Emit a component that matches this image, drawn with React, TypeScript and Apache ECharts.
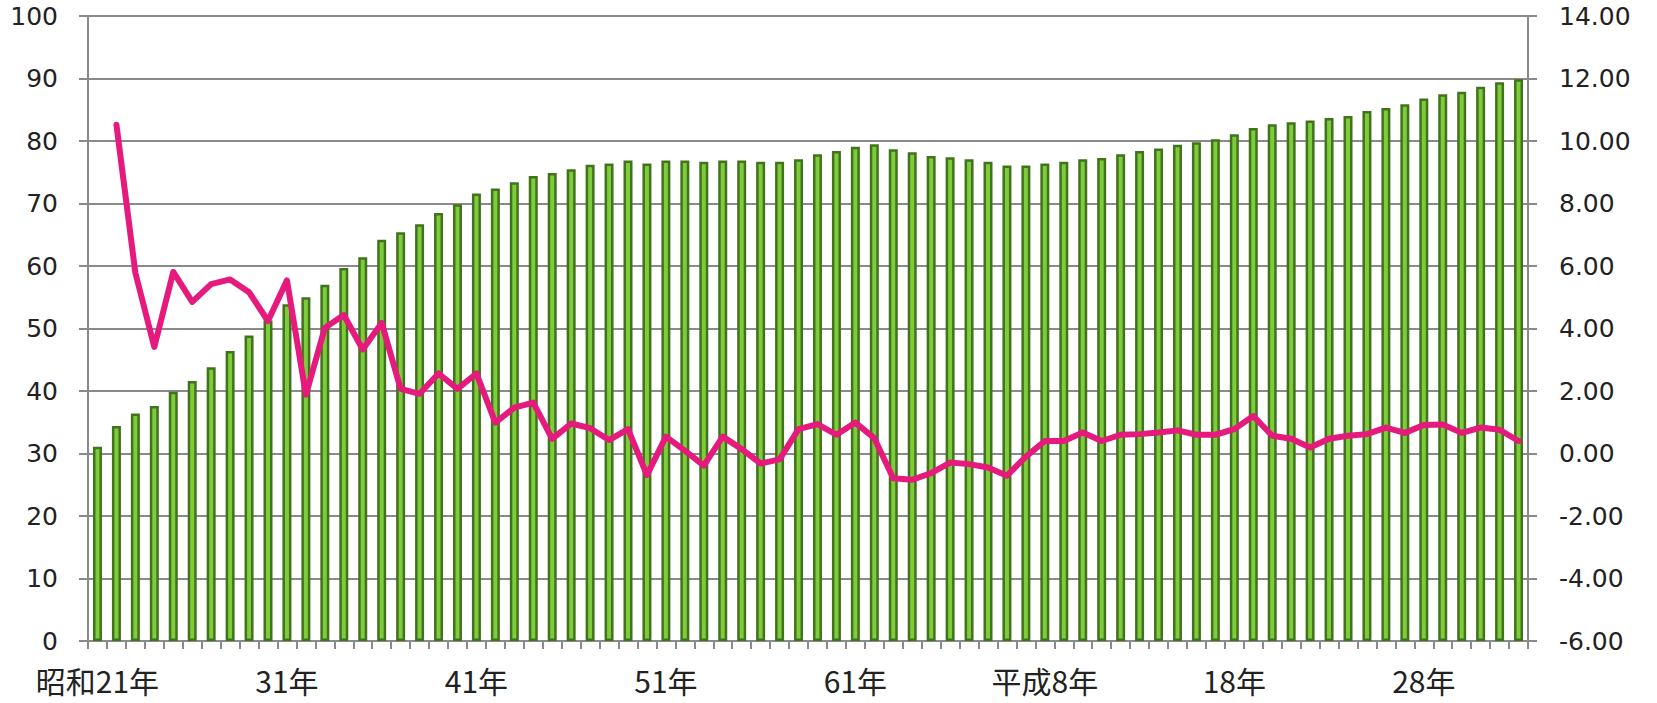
import React, { useEffect, useRef } from "react";
import * as echarts from "echarts";

// Categories: 昭和21年 (1946) .. 令和3年 (2021)
const SHOWA_YEARS = Array.from({ length: 43 }, (_, i) => `昭和${21 + i}年`);
const HEISEI_YEARS = Array.from({ length: 31 }, (_, i) => (i === 0 ? "平成元年" : `平成${i + 1}年`));
const REIWA_YEARS = ["令和2年", "令和3年"];
const CATEGORIES = [...SHOWA_YEARS, ...HEISEI_YEARS, ...REIWA_YEARS];

// Tick labels shown every 10 categories
const TICK_LABELS = ["昭和21年", "31年", "41年", "51年", "61年", "平成8年", "18年", "28年"];

// Bar values (left axis)
const BAR_VALUES = [
  31.1, 34.4, 36.4, 37.6, 39.9, 41.6, 43.8, 46.4, 48.9, 51.3,
  53.9, 55.0, 57.0, 59.7, 61.4, 64.2, 65.4, 66.7, 68.5, 69.9,
  71.6, 72.4, 73.4, 74.4, 74.9, 75.5, 76.2, 76.4, 76.9, 76.4,
  76.9, 76.9, 76.7, 76.9, 76.9, 76.7, 76.7, 77.1, 77.9, 78.4,
  79.1, 79.5, 78.7, 78.2, 77.6, 77.4, 77.1, 76.7, 76.1, 76.1,
  76.4, 76.7, 77.1, 77.3, 77.9, 78.4, 78.8, 79.4, 79.8, 80.3,
  81.1, 82.1, 82.7, 83.0, 83.3, 83.7, 84.0, 84.8, 85.3, 85.9,
  86.8, 87.5, 87.9, 88.7, 89.4, 89.9,
];

// Line values (right axis, % change)
const LINE_VALUES: (number | null)[] = [
  null, 10.52, 5.78, 3.41, 5.81, 4.85, 5.42, 5.57, 5.16, 4.24,
  5.54, 1.88, 4.02, 4.43, 3.33, 4.18, 2.07, 1.91, 2.56, 2.07,
  2.56, 0.99, 1.47, 1.63, 0.47, 0.96, 0.81, 0.43, 0.78, -0.69,
  0.54, 0.09, -0.39, 0.54, 0.14, -0.32, -0.19, 0.78, 0.94, 0.6,
  0.99, 0.49, -0.79, -0.84, -0.63, -0.29, -0.34, -0.45, -0.71, -0.1,
  0.4, 0.4, 0.67, 0.4, 0.6, 0.62, 0.67, 0.74, 0.6, 0.6,
  0.78, 1.2, 0.57, 0.47, 0.19, 0.47, 0.57, 0.62, 0.83, 0.66,
  0.91, 0.93, 0.66, 0.83, 0.76, 0.4,
];

const GRAY = "#8a8a8a";
const TEXT = "#222222";
const NUM_FONT = "'DejaVu Sans', sans-serif";
const CJK_FONT = "'Noto Sans CJK JP', 'Noto Sans', sans-serif";

export default function App() {
  const ref = useRef<HTMLDivElement>(null);

  useEffect(() => {
    if (!ref.current) return;
    const chart = echarts.init(ref.current, undefined, { renderer: "svg" });
    chart.setOption({
      animation: false,
      backgroundColor: "#ffffff",
      grid: { left: 88, right: 129, top: 16, bottom: 62, containLabel: false },
      xAxis: {
        type: "category",
        data: CATEGORIES,
        boundaryGap: true,
        axisLine: { show: true, lineStyle: { color: GRAY, width: 2 } },
        axisTick: { show: true, interval: 0, length: 8, lineStyle: { color: GRAY, width: 2 } },
        axisLabel: {
          interval: 9,
          margin: 24,
          fontSize: 30,
          lineHeight: 30,
          fontFamily: CJK_FONT,
          color: TEXT,
          formatter: (_v: string, idx: number) => TICK_LABELS[Math.floor(idx / 10)] ?? "",
        },
        splitLine: { show: false },
      },
      yAxis: [
        {
          type: "value",
          position: "left",
          min: 0,
          max: 100,
          interval: 10,
          axisLine: { show: true, lineStyle: { color: GRAY, width: 2 } },
          axisTick: { show: true, length: 9, lineStyle: { color: GRAY, width: 2 } },
          axisLabel: { margin: 30, fontSize: 25, lineHeight: 25, fontFamily: NUM_FONT, color: TEXT },
          splitLine: { show: true, lineStyle: { color: GRAY, width: 2 } },
        },
        {
          type: "value",
          position: "right",
          min: -6,
          max: 14,
          interval: 2,
          axisLine: { show: true, lineStyle: { color: GRAY, width: 2 } },
          axisTick: { show: true, length: 9, lineStyle: { color: GRAY, width: 2 } },
          axisLabel: {
            margin: 31,
            fontSize: 25,
            lineHeight: 25,
            fontFamily: NUM_FONT,
            color: TEXT,
            formatter: (v: number) => v.toFixed(2),
          },
          splitLine: { show: false },
        },
      ],
      series: [
        {
          type: "bar",
          yAxisIndex: 0,
          data: BAR_VALUES,
          barWidth: 9,
          itemStyle: { color: "#7dcc3c", borderColor: "#42731c", borderWidth: 2.5 },
        },
        {
          type: "line",
          yAxisIndex: 1,
          data: LINE_VALUES,
          symbol: "none",
          connectNulls: false,
          lineStyle: { color: "#e6197c", width: 6, join: "round", cap: "round" },
          z: 5,
        },
      ],
    });
    return () => chart.dispose();
  }, []);

  return (
    <div
      ref={ref}
      style={{ position: "fixed", left: 0, top: 0, width: 1657, height: 703, background: "#fff" }}
    />
  );
}
